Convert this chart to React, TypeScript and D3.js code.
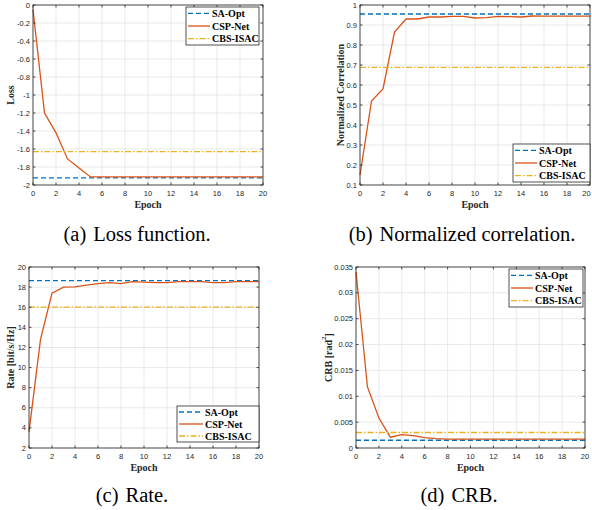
// Training curves: loss, correlation, rate and CRB vs. epoch (four MATLAB-style panels)
import React from 'react';
import * as d3 from 'd3';

// ---- data ----
const epochs = [0, 1, 2, 3, 4, 5, 6, 7, 8, 9, 10, 11, 12, 13, 14, 15, 16, 17, 18, 19, 20];
const xTicks = [0, 2, 4, 6, 8, 10, 12, 14, 16, 18, 20];
const seriesNames = ['SA-Opt', 'CSP-Net', 'CBS-ISAC'];

const lossCsp = [-0.05, -1.2, -1.42, -1.71, -1.81, -1.91, -1.91, -1.91, -1.91, -1.91, -1.91,
  -1.91, -1.91, -1.91, -1.91, -1.91, -1.91, -1.91, -1.91, -1.91, -1.91];
const lossSa = -1.92;
const lossCbs = -1.63;
const lossTicks = [-2, -1.8, -1.6, -1.4, -1.2, -1, -0.8, -0.6, -0.4, -0.2, 0];

const corrCsp = [0.15, 0.52, 0.58, 0.865, 0.93, 0.93, 0.94, 0.94, 0.943, 0.943, 0.935,
  0.937, 0.943, 0.942, 0.94, 0.945, 0.944, 0.944, 0.944, 0.944, 0.944];
const corrSa = 0.955;
const corrCbs = 0.688;
const corrTicks = [0.1, 0.2, 0.3, 0.4, 0.5, 0.6, 0.7, 0.8, 0.9, 1];

const rateCsp = [3.6, 12.8, 17.4, 18.0, 18.02, 18.2, 18.35, 18.45, 18.35, 18.55, 18.5,
  18.45, 18.45, 18.55, 18.55, 18.55, 18.45, 18.45, 18.55, 18.55, 18.55];
const rateSa = 18.65;
const rateCbs = 16.0;
const rateTicks = [2, 4, 6, 8, 10, 12, 14, 16, 18, 20];

const crbCsp = [0.034, 0.0118, 0.0058, 0.0021, 0.0026, 0.0024, 0.002, 0.0018, 0.0017, 0.0017, 0.0017,
  0.0017, 0.0017, 0.0017, 0.0017, 0.0017, 0.0017, 0.0017, 0.0017, 0.0017, 0.0017];
const crbSa = 0.0015;
const crbCbs = 0.003;
const crbTicks = [0, 0.005, 0.01, 0.015, 0.02, 0.025, 0.03, 0.035];

// MATLAB default colours
const colors = ['#0072BD', '#D95319', '#EDB120'];
const dashes = ['5,3', undefined, '6,2,1.5,2'];

const serif = '"Liberation Serif", "Times New Roman", serif';
const sans = '"Liberation Sans", Arial, sans-serif';

// ---- layout of each panel ----
const panels = [
  {
    key: 'a', box: { l: 33, r: 263, t: 5, b: 185 }, yDomain: [-2, 0], yTicks: lossTicks,
    csp: lossCsp, sa: lossSa, cbs: lossCbs, fmt: (d) => String(Math.round(d * 10) / 10),
    yLabel: 'Loss', yLabelX: 10, legend: { x: 186, y: 7, w: 73, h: 38, line: 22 },
    caption: '(a)', captionText: 'Loss function.', capX: 137, capY: 241,
  },
  {
    key: 'b', box: { l: 360, r: 590, t: 5, b: 185 }, yDomain: [0.1, 1], yTicks: corrTicks,
    csp: corrCsp, sa: corrSa, cbs: corrCbs, fmt: (d) => String(Math.round(d * 10) / 10),
    yLabel: 'Normalized Correlation', yLabelX: 340, legend: { x: 513, y: 144, w: 77, h: 38, line: 22 },
    caption: '(b)', captionText: 'Normalized correlation.', capX: 462, capY: 241,
  },
  {
    key: 'c', box: { l: 29, r: 259, t: 267, b: 448 }, yDomain: [2, 20], yTicks: rateTicks,
    csp: rateCsp, sa: rateSa, cbs: rateCbs, fmt: (d) => String(d),
    yLabel: 'Rate [bit/s/Hz]', yLabelX: 10, legend: { x: 177, y: 406, w: 82, h: 36, line: 24 },
    caption: '(c)', captionText: 'Rate.', capX: 132, capY: 502,
  },
  {
    key: 'd', box: { l: 356, r: 585, t: 267, b: 448 }, yDomain: [0, 0.035], yTicks: crbTicks,
    csp: crbCsp, sa: crbSa, cbs: crbCbs, fmt: (d) => String(Math.round(d * 1000) / 1000),
    yLabel: 'CRB', yLabelX: 328, legend: { x: 509, y: 269, w: 74, h: 38, line: 22 },
    caption: '(d)', captionText: 'CRB.', capX: 459, capY: 502,
  },
];

const Panel = ({ p }) => {
  const { l, r, t, b } = p.box;
  const x = d3.scaleLinear().domain([0, 20]).range([l, r]);
  const y = d3.scaleLinear().domain(p.yDomain).range([b, t]);
  const line = d3.line().x((d) => x(d[0])).y((d) => y(d[1]));
  const cspPts = epochs.map((e, i) => [e, p.csp[i]]);
  const flat = (v) => [[0, v], [20, v]];
  const series = [flat(p.sa), cspPts, flat(p.cbs)];
  const tk = 2.5;
  const axisColor = '#262626';
  const lg = p.legend;
  const rowH = lg.h / 3;

  return (
    <g>
      {/* grid */}
      {xTicks.map((v) => <line key={`gx${v}`} x1={x(v)} x2={x(v)} y1={t} y2={b} stroke="#e3e3e3" strokeWidth={0.8} />)}
      {p.yTicks.map((v) => <line key={`gy${v}`} x1={l} x2={r} y1={y(v)} y2={y(v)} stroke="#e3e3e3" strokeWidth={0.8} />)}

      {/* curves */}
      {series.map((s, i) => (
        <path key={seriesNames[i]} d={line(s)} fill="none" stroke={colors[i]} strokeWidth={1.3} strokeDasharray={dashes[i]} />
      ))}

      {/* box + inward ticks */}
      <rect x={l} y={t} width={r - l} height={b - t} fill="none" stroke={axisColor} strokeWidth={0.8} />
      {xTicks.map((v) => (
        <g key={`tx${v}`}>
          <line x1={x(v)} x2={x(v)} y1={b} y2={b - tk} stroke={axisColor} strokeWidth={0.8} />
          <line x1={x(v)} x2={x(v)} y1={t} y2={t + tk} stroke={axisColor} strokeWidth={0.8} />
          {/* keep the last label inside the page edge */}
          <text x={Math.min(x(v), 586.5)} y={b + 8} textAnchor="middle" dominantBaseline="central" fontSize={7.5} fontFamily={sans} fill={axisColor}>{v}</text>
        </g>
      ))}
      {p.yTicks.map((v) => (
        <g key={`ty${v}`}>
          <line x1={l} x2={l + tk} y1={y(v)} y2={y(v)} stroke={axisColor} strokeWidth={0.8} />
          <line x1={r} x2={r - tk} y1={y(v)} y2={y(v)} stroke={axisColor} strokeWidth={0.8} />
          <text x={l - 3} y={y(v)} textAnchor="end" dominantBaseline="central" fontSize={7.5} fontFamily={sans} fill={axisColor}>{p.fmt(v)}</text>
        </g>
      ))}

      {/* axis titles */}
      <text x={(l + r) / 2} y={b + 19} textAnchor="middle" dominantBaseline="central" fontSize={10} fontWeight="bold" fontFamily={serif} fill={axisColor}>Epoch</text>
      <text transform={`translate(${p.yLabelX}, ${(t + b) / 2}) rotate(-90)`} textAnchor="middle" dominantBaseline="central" fontSize={10} fontWeight="bold" fontFamily={serif} fill={axisColor}>
        {p.yLabel}
        {p.key === 'd' && <>{' [rad'}<tspan fontSize={7} dy={-4}>2</tspan><tspan dy={4}>]</tspan></>}
      </text>

      {/* legend */}
      <rect x={lg.x} y={lg.y} width={lg.w} height={lg.h} fill="#fff" stroke={axisColor} strokeWidth={0.8} />
      {seriesNames.map((name, i) => {
        const cy = lg.y + rowH * (i + 0.5);
        return (
          <g key={`lg${name}`}>
            <line x1={lg.x + 2} x2={lg.x + 2 + lg.line} y1={cy} y2={cy} stroke={colors[i]} strokeWidth={1.3} strokeDasharray={dashes[i]} />
            <text x={lg.x + 4 + lg.line} y={cy} dominantBaseline="central" fontSize={10} fontWeight="bold" fontFamily={serif} fill="#000">{name}</text>
          </g>
        );
      })}

      {/* sub-caption */}
      <text x={p.capX} y={p.capY} textAnchor="middle" fontSize={20.5} fontFamily={serif} fill="#000">
        {p.caption}<tspan dx={7}>{p.captionText}</tspan>
      </text>
    </g>
  );
};

export default function App() {
  return (
    <div style={{ position: 'absolute', left: 0, top: 0 }}>
      <svg width={592} height={510} viewBox="0 0 592 510" style={{ display: 'block', background: '#fff' }}>
        {panels.map((p) => <Panel key={p.key} p={p} />)}
      </svg>
    </div>
  );
}
